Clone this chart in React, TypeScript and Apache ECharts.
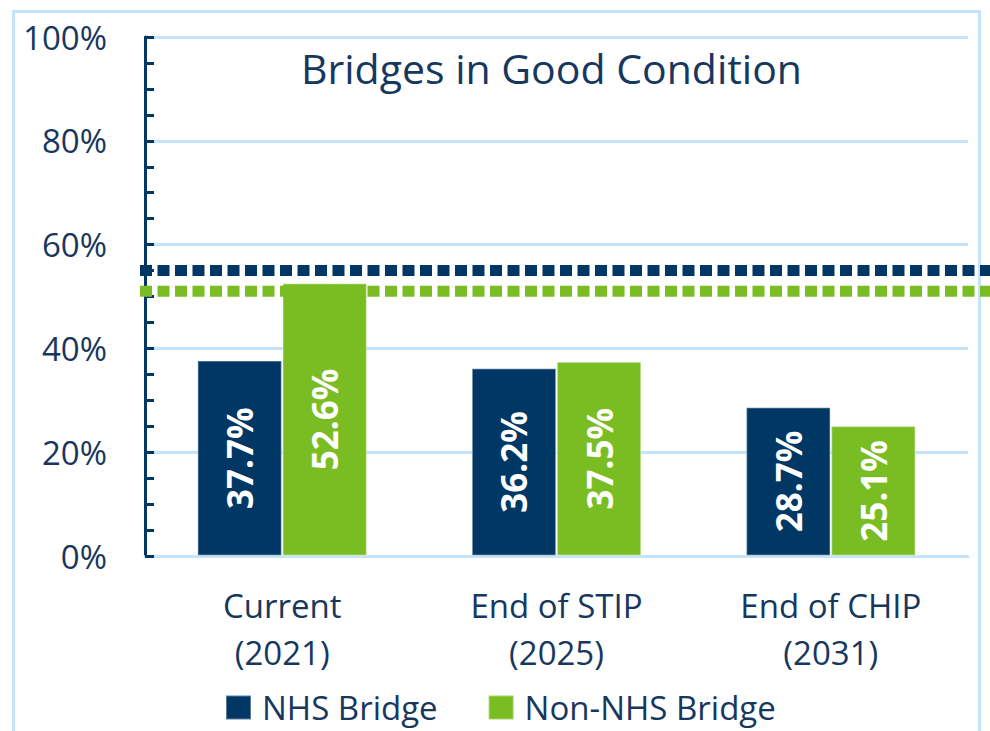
import { useEffect, useRef } from "react";
import * as echarts from "echarts";

const categories = ["Current\n(2021)", "End of STIP\n(2025)", "End of CHIP\n(2031)"];
const seriesNames = ["NHS Bridge", "Non-NHS Bridge"];
const nhsValues = [37.7, 36.2, 28.7];
const nonNhsValues = [52.6, 37.5, 25.1];
const targetValues = [55, 51]; // NHS target, Non-NHS target
const yMin = 0;
const yMax = 100;
const yInterval = 20;
const chartTitle = "Bridges in Good Condition";

const NAVY = "#003764";
const GREEN = "#7abd23";
const TEXT = "#17375e";
const GRID_C = "#c5e3fb";
const FONT = "'Open Sans', 'Noto Sans', sans-serif";

export default function App() {
  const ref = useRef<HTMLDivElement>(null);
  useEffect(() => {
    const chart = echarts.init(ref.current!, null, { renderer: "svg" });
    const option: any = {
      animation: false,
      backgroundColor: "#ffffff",
      textStyle: { fontFamily: FONT },
      title: {
        text: chartTitle,
        left: 296,
        top: 42,
        textStyle: { fontFamily: FONT, fontSize: 41, fontWeight: "normal", color: TEXT },
      },
      legend: {
        data: seriesNames,
        left: 220,
        top: 686,
        itemWidth: 25,
        itemHeight: 24,
        itemGap: 50,
        icon: "rect",
        textStyle: { fontFamily: FONT, fontSize: 33, color: TEXT, padding: [0, 0, 0, 6] },
      },
      grid: { left: 145, right: 22, top: 37, bottom: 175 },
      xAxis: {
        type: "category",
        data: categories,
        axisLine: { show: true, lineStyle: { color: GRID_C, width: 3 } },
        axisTick: { show: false },
        axisLabel: {
          fontFamily: FONT,
          fontSize: 33,
          color: TEXT,
          lineHeight: 47,
          margin: 26,
          interval: 0,
        },
      },
      yAxis: {
        type: "value",
        min: yMin,
        max: yMax,
        interval: yInterval,
        axisLine: { show: true, lineStyle: { color: NAVY, width: 3 } },
        axisTick: { show: true, inside: true, length: 9, lineStyle: { color: NAVY, width: 3 } },
        minorTick: { show: true, splitNumber: 4, length: 9, lineStyle: { color: NAVY, width: 3 } },
        splitLine: { show: true, lineStyle: { color: GRID_C, width: 3 } },
        axisLabel: {
          fontFamily: FONT,
          fontSize: 33,
          color: TEXT,
          margin: 38,
          formatter: (v: number) => v + "%",
        },
      },
      series: [
        {
          name: seriesNames[0],
          type: "bar",
          data: nhsValues,
          barWidth: "31%",
          barGap: "0%",
          itemStyle: { color: NAVY, borderColor: "rgba(255,255,255,0.35)", borderWidth: 1.5 },
          label: {
            show: true,
            position: "inside",
            rotate: 90,
            align: "center",
            verticalAlign: "middle",
            color: "#ffffff",
            fontFamily: FONT,
            fontWeight: "bold",
            fontSize: 35,
            formatter: (p: any) => p.value.toFixed(1) + "%",
          },
        },
        {
          name: seriesNames[1],
          type: "bar",
          data: nonNhsValues,
          barWidth: "31%",
          barGap: "0%",
          itemStyle: { color: GREEN, borderColor: "rgba(255,255,255,0.35)", borderWidth: 1.5 },
          label: {
            show: true,
            position: "inside",
            rotate: 90,
            align: "center",
            verticalAlign: "middle",
            color: "#ffffff",
            fontFamily: FONT,
            fontWeight: "bold",
            fontSize: 35,
            formatter: (p: any) => p.value.toFixed(1) + "%",
          },
        },
      ],
    };
    chart.setOption(option);
    const yNhs = chart.convertToPixel({ yAxisIndex: 0 }, targetValues[0]) as number;
    const yNon = chart.convertToPixel({ yAxisIndex: 0 }, targetValues[1]) as number;
    chart.setOption({
      graphic: [
        {
          type: "rect",
          z: -10,
          silent: true,
          shape: { x: 13.5, y: 11.5, width: 966, height: 800 },
          style: { fill: "none", stroke: GRID_C, lineWidth: 3 },
        },
        {
          type: "line",
          z: 100,
          silent: true,
          shape: { x1: 140, y1: yNhs, x2: 990, y2: yNhs },
          style: { stroke: NAVY, lineWidth: 11, lineDash: [12, 5.5] },
        },
        {
          type: "line",
          z: 100,
          silent: true,
          shape: { x1: 140, y1: yNon, x2: 990, y2: yNon },
          style: { stroke: GREEN, lineWidth: 11, lineDash: [12, 5.5] },
        },
      ],
    });
    return () => chart.dispose();
  }, []);
  return (
    <div
      ref={ref}
      style={{ position: "absolute", left: 0, top: 0, width: 990, height: 731 }}
    />
  );
}
